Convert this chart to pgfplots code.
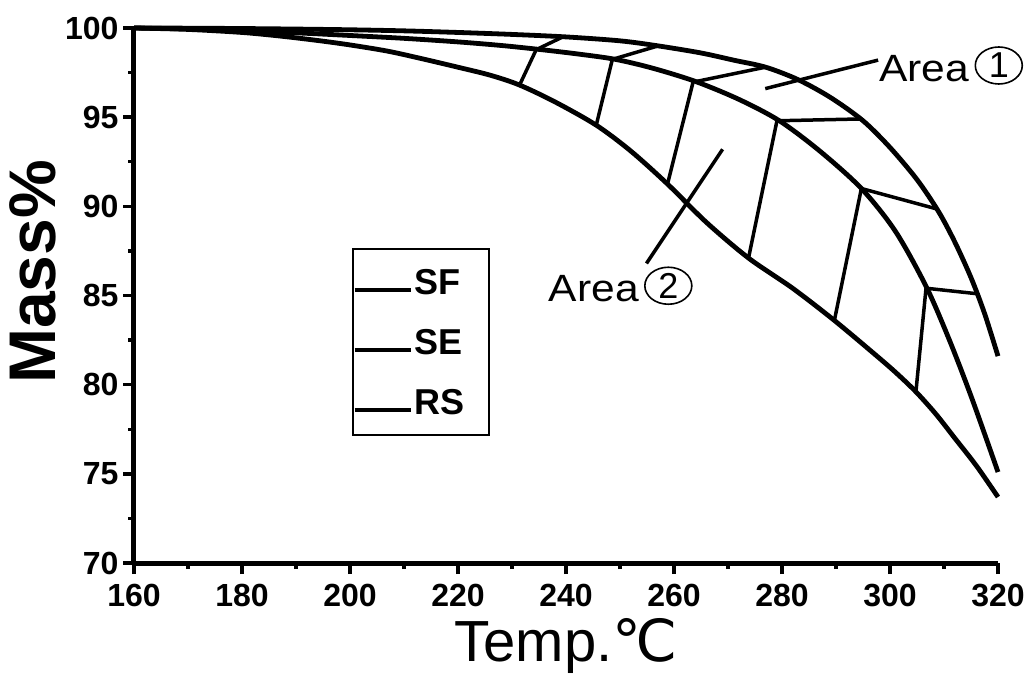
\documentclass[border=0pt]{standalone}
\usepackage{fontspec}
\setmainfont{Liberation Sans}
\newfontfamily\dejavu{DejaVu Sans}
\newfontfamily\areafont[FakeStretch=1.12]{Liberation Sans}
\usepackage{pgfplots}
\pgfplotsset{compat=1.18}
\usetikzlibrary{shapes.geometric}

\begin{document}
\begin{tikzpicture}
\begin{axis}[
    name=ax,
    scale only axis,
    width=864pt, height=535pt,
    xmin=160, xmax=320, ymin=70, ymax=100,
    xtick={160,180,...,320}, ytick={70,75,...,100},
    minor x tick num=1, minor y tick num=1,
    axis lines=left,
    axis line style={-, line width=5pt},
    tick align=outside,
    major tick length=11pt, minor tick length=6pt,
    every tick/.style={black, line width=3.5pt},
    tick label style={font=\bfseries\fontsize{32}{32}\selectfont},
    /pgf/number format/assume math mode=true,
    xticklabel style={yshift=-7pt},
    yticklabel style={xshift=-1pt},
    xlabel={Temp.{\dejavu ℃}},
    ylabel={Mass\%},
    xlabel style={at={(axis description cs:0.5,-0.185)}, anchor=base,
        font=\fontsize{58}{58}\selectfont},
    ylabel style={at={(axis description cs:-0.0914,0.544)}, anchor=base,
        font=\bfseries\fontsize{66}{66}\selectfont},
    clip=false,
    legend style={at={(rel axis cs:0.252,0.589)}, anchor=north west,
        draw=black, line width=1.8pt, inner xsep=0pt, inner ysep=20pt,
        font=\bfseries\fontsize{36}{36}\selectfont, row sep=34pt,
        nodes={text width=72pt, inner xsep=2pt, inner ysep=0pt,
            text height=26pt, text depth=0pt},
        /tikz/every even column/.append style={column sep=0pt}},
    legend cell align=left,
    legend image code/.code={\draw[line width=4pt] (0pt,-8pt) -- (56pt,-8pt);},
]
% SF
\addplot[black, line width=4.8pt, smooth, line join=round] coordinates {
    (160,100.0) (170,99.99) (180,99.97) (190,99.94) (200,99.9) (210,99.84)
    (220,99.75) (230,99.64) (240,99.5) (250,99.28) (257,99.0) (265,98.6)
    (271,98.2) (277,97.8) (283,97.1) (289,96.1) (295,94.8) (300,93.3)
    (305,91.5) (309,89.7) (312,88.0) (315,86.0) (317.5,84.0) (320,81.6)
};
\addlegendentry{SF}
% SE
\addplot[black, line width=4.8pt, smooth, line join=round] coordinates {
    (160,100) (170,99.95) (180,99.85) (190,99.73) (200,99.58) (210,99.42)
    (220,99.22) (228,99.02) (235,98.8) (242,98.55) (249,98.25) (256,97.75)
    (264,97.0) (272,96.0) (279.5,94.8) (287,93.1) (294.7,91.0) (301,88.6)
    (306.7,85.5) (311,82.5) (315.2,79.2) (320,75.1)
};
\addlegendentry{SE}
% RS
\addplot[black, line width=4.8pt, smooth, line join=round] coordinates {
    (160,100) (170,99.92) (180,99.75) (187,99.55) (194,99.3) (200,99.05)
    (207,98.7) (213,98.3) (220,97.8) (226,97.35) (231.4,96.8) (238,95.85)
    (245.6,94.55) (252,93.1) (258.8,91.25) (266,89.1) (273.8,87.1) (282,85.4)
    (289.7,83.6) (297,81.75) (301,80.7) (304.8,79.6) (308.5,78.35) (312,77.0)
    (316,75.45) (320,73.7)
};
\addlegendentry{RS}

% area 1 hatching (SE to SF)
\addplot[forget plot, black, line width=3.5pt] coordinates {(234.6,98.8) (239.4,99.5)};
\addplot[forget plot, black, line width=3.5pt] coordinates {(248.8,98.26) (257.1,99.0)};
\addplot[forget plot, black, line width=3.5pt] coordinates {(264.1,97.0) (276.9,97.8)};
\addplot[forget plot, black, line width=3.5pt] coordinates {(279.5,94.8) (294.7,94.9)};
\addplot[forget plot, black, line width=3.5pt] coordinates {(294.7,91.0) (308.7,89.85)};
\addplot[forget plot, black, line width=3.5pt] coordinates {(306.9,85.4) (316.1,85.1)};
% area 2 hatching (SE to RS)
\addplot[forget plot, black, line width=3.5pt] coordinates {(234.5,98.8) (231.4,96.8)};
\addplot[forget plot, black, line width=3.5pt] coordinates {(248.6,98.26) (245.6,94.55)};
\addplot[forget plot, black, line width=3.5pt] coordinates {(263.6,97.05) (258.8,91.25)};
\addplot[forget plot, black, line width=3.5pt] coordinates {(279.1,94.85) (273.8,87.1)};
\addplot[forget plot, black, line width=3.5pt] coordinates {(294.7,91.0) (289.7,83.6)};
\addplot[forget plot, black, line width=3.5pt] coordinates {(306.7,85.5) (304.8,79.6)};
% leaders
\addplot[forget plot, black, line width=3.5pt] coordinates {(276.9,96.6) (297.8,98.2)};
\addplot[forget plot, black, line width=3.5pt] coordinates {(269.0,93.2) (254.9,86.8)};

\node[anchor=base west, inner sep=0pt, font=\areafont\fontsize{38}{38}\selectfont]
    (a1) at (axis cs:298,97.0) {Area};
\node[draw, ellipse, line width=1.6pt, inner sep=0pt, minimum width=47pt,
    minimum height=37pt, anchor=west, font=\fontsize{36}{36}\selectfont]
    at ([xshift=5pt,yshift=16pt]a1.base east) {1};
\node[anchor=base west, inner sep=0pt, font=\areafont\fontsize{38}{38}\selectfont]
    (a2) at (axis cs:236.8,84.65) {Area};
\node[draw, ellipse, line width=1.6pt, inner sep=0pt, minimum width=47pt,
    minimum height=37pt, anchor=west, font=\fontsize{36}{36}\selectfont]
    at ([xshift=5pt,yshift=16pt]a2.base east) {2};
\end{axis}
\pgfresetboundingbox
\path ([xshift=-134pt,yshift=-114pt]ax.south west) rectangle ([xshift=38pt,yshift=28pt]ax.north east);
\end{tikzpicture}
\end{document}
